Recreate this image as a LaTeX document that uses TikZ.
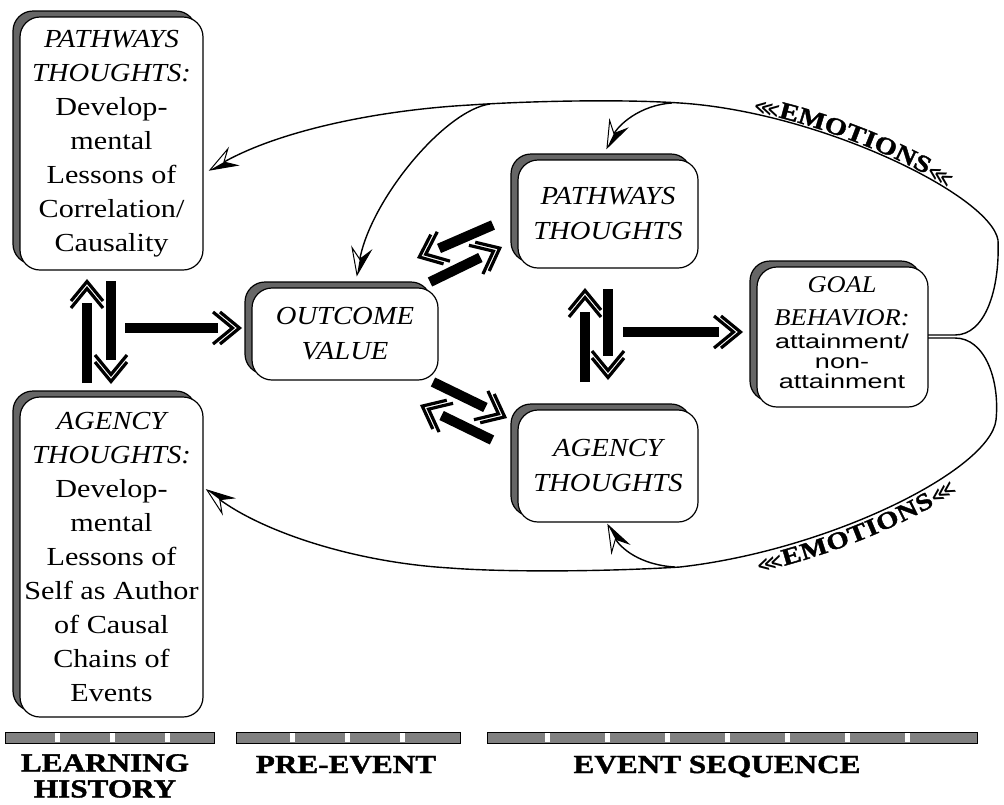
\documentclass[tikz,border=0pt]{standalone}
\usepackage{fontspec}
\setmainfont{Liberation Serif}
\newfontfamily\rmw[FakeStretch=1.16]{Liberation Serif}
\newfontfamily\itw[FakeStretch=1.1]{Liberation Serif}
\newfontfamily\sfw[FakeStretch=1.35]{Liberation Sans}
\newfontfamily\lbl[FakeStretch=1.2,BoldFeatures={FakeBold=1.5}]{Liberation Serif}
\newfontfamily\dvs{DejaVu Sans}
\usetikzlibrary{shadows,decorations.text,arrows.meta}
\newcommand\emof{\lbl\bfseries\fontsize{24}{24}\selectfont}
\newcommand\fletchf{\dvs\bfseries\fontsize{18}{18}\selectfont}

\pgfdeclarearrow{
  name=DChev,
  setup code={
    \pgfarrowssettipend{0pt}
    \pgfarrowssetlineend{-24pt}
    \pgfarrowssetvisualbackend{-31pt}
    \pgfarrowssetbackend{-31pt}
  },
  drawing code={
    \pgfsetlinewidth{3.2pt}
    \pgfsetmiterjoin
    \pgfsetbuttcap
    \pgfpathmoveto{\pgfpoint{-22pt}{16pt}}
    \pgfpathlineto{\pgfpoint{-2.5pt}{0pt}}
    \pgfpathlineto{\pgfpoint{-22pt}{-16pt}}
    \pgfpathmoveto{\pgfpoint{-29pt}{16pt}}
    \pgfpathlineto{\pgfpoint{-9.5pt}{0pt}}
    \pgfpathlineto{\pgfpoint{-29pt}{-16pt}}
    \pgfusepathqstroke
  }
}
\pgfdeclarearrow{
  name=HalfA,
  setup code={
    \pgfarrowssettipend{0pt}
    \pgfarrowssetlineend{-14pt}
    \pgfarrowssetvisualbackend{-16pt}
    \pgfarrowssetbackend{-25pt}
  },
  drawing code={
    \pgfsetlinewidth{1pt}
    \pgfsetmiterjoin
    \pgfpathmoveto{\pgfpoint{0pt}{0pt}}
    \pgfpathlineto{\pgfpoint{-26pt}{9.5pt}}
    \pgfpathlineto{\pgfpoint{-16pt}{0pt}}
    \pgfpathlineto{\pgfpoint{-26pt}{-9.5pt}}
    \pgfpathclose
    \pgfsetfillcolor{white}
    \pgfusepathqfillstroke
    \pgfpathmoveto{\pgfpoint{0pt}{0pt}}
    \pgfpathlineto{\pgfpoint{-16pt}{0pt}}
    \pgfpathlineto{\pgfpoint{-26pt}{9.5pt}}
    \pgfpathclose
    \pgfsetfillcolor{black}
    \pgfusepathqfill
  }
}
\pgfdeclarearrow{
  name=HalfB,
  setup code={
    \pgfarrowssettipend{0pt}
    \pgfarrowssetlineend{-14pt}
    \pgfarrowssetvisualbackend{-16pt}
    \pgfarrowssetbackend{-25pt}
  },
  drawing code={
    \pgfsetlinewidth{1pt}
    \pgfsetmiterjoin
    \pgfpathmoveto{\pgfpoint{0pt}{0pt}}
    \pgfpathlineto{\pgfpoint{-26pt}{9.5pt}}
    \pgfpathlineto{\pgfpoint{-16pt}{0pt}}
    \pgfpathlineto{\pgfpoint{-26pt}{-9.5pt}}
    \pgfpathclose
    \pgfsetfillcolor{white}
    \pgfusepathqfillstroke
    \pgfpathmoveto{\pgfpoint{0pt}{0pt}}
    \pgfpathlineto{\pgfpoint{-16pt}{0pt}}
    \pgfpathlineto{\pgfpoint{-26pt}{-9.5pt}}
    \pgfpathclose
    \pgfsetfillcolor{black}
    \pgfusepathqfill
  }
}

\tikzset{
  box/.style={draw=black, line width=1.2pt, fill=white, rounded corners=20pt,
    inner sep=0pt, align=center,
    general shadow={shadow xshift=-7pt, shadow yshift=6pt, fill=black!60,
      draw=black, line width=1.2pt}},
  bigarr/.style={line width=10pt, -DChev},
  curveA/.style={line width=1.4pt, -HalfA},
  curveB/.style={line width=1.4pt, -HalfB},
  boxtext/.style={font=\rmw\fontsize{26}{34}\selectfont},
  midtext/.style={font=\itw\itshape\fontsize{26}{35}\selectfont},
  label/.style={font=\lbl\bfseries\fontsize{26}{26}\selectfont, inner sep=0pt, align=center},
  barfill/.style={draw=black, line width=1pt, fill=black!50},
  bargap/.style={fill=white}
}

\begin{document}
\begin{tikzpicture}[x=1pt, y=-1pt]
\fill[white] (0,0) rectangle (1004,804);
\useasboundingbox (0,0) rectangle (1004,804);

% ---------- boxes ----------
\node[box, boxtext, minimum width=183pt, minimum height=253pt] (lp) at (111.5,143.5)
  {\itw\itshape PATHWAYS\\\itw\itshape THOUGHTS:\\\rmw\upshape Develop-\\\rmw mental\\\rmw Lessons of\\\rmw Correlation/\\\rmw Causality};
\node[box, boxtext, minimum width=183pt, minimum height=320pt] (la) at (111.5,557)
  {\itw\itshape AGENCY\\\itw\itshape THOUGHTS:\\\rmw\upshape Develop-\\\rmw mental\\\rmw Lessons of\\\rmw Self as Author\\\rmw of Causal\\\rmw Chains of\\\rmw Events};
\node[box, midtext, minimum width=186pt, minimum height=92pt] (ov) at (345,334) {OUTCOME\\VALUE};
\node[box, midtext, minimum width=180pt, minimum height=108pt] (pt) at (608,214) {PATHWAYS\\THOUGHTS};
\node[box, midtext, minimum width=180pt, minimum height=112pt] (at) at (608,466) {AGENCY\\THOUGHTS};
\node[box, minimum width=171pt, minimum height=140pt] (gb) at (842.5,337) {};
\node[font=\itw\itshape\fontsize{24}{33}\selectfont, align=center, inner sep=0pt] (gbt) at (842,301) {GOAL\\BEHAVIOR:};
\node[font=\sfw\fontsize{20}{20}\selectfont, align=center, inner sep=0pt] (gbs) at (842,361) {attainment/\\non-\\attainment};

% ---------- thick arrows ----------
\coordinate (v1a) at (87,383);  \coordinate (v1b) at (87,279);
\coordinate (v2a) at (111,281); \coordinate (v2b) at (111,384);
\coordinate (h1a) at (125,328); \coordinate (h1b) at (242,328);
\coordinate (v3a) at (585,382); \coordinate (v3b) at (585,288);
\coordinate (v4a) at (608,289); \coordinate (v4b) at (608,380);
\coordinate (h2a) at (623,332); \coordinate (h2b) at (743,332);
\coordinate (d1a) at (493,225); \coordinate (d1b) at (417,258);
\coordinate (d2a) at (430,282); \coordinate (d2b) at (502,247);
\coordinate (d3a) at (433,382); \coordinate (d3b) at (507,418);
\coordinate (d4a) at (492,440); \coordinate (d4b) at (420,405);
\foreach \s/\e in {v1a/v1b, v2a/v2b, h1a/h1b, v3a/v3b, v4a/v4b, h2a/h2b, d1a/d1b, d2a/d2b, d3a/d3b, d4a/d4b}
  \draw[bigarr] (\s) -- (\e);

% ---------- feedback curves ----------
\coordinate (g0) at (928,335);
\coordinate (g1) at (955,335);
\coordinate (ur) at (998,240);
\coordinate (ut) at (680,103);
\coordinate (uj) at (470,105);
\coordinate (lr) at (996,420);
\coordinate (lt) at (680,567);
\coordinate (lj) at (450,568);
\coordinate (tipLP) at (210,170);
\coordinate (tipOV) at (357,275);
\coordinate (tipPT) at (607,148);
\coordinate (tipAT) at (608,525);
\coordinate (tipLA) at (207,490);

\draw[curveA] (g0) -- (g1) .. controls (985,335) and (1000,290) .. (ur)
   .. controls (990,195) and (820,112) .. (ut)
   .. controls (620,99) and (530,101) .. (uj)
   .. controls (380,110) and (280,130) .. (tipLP);
\draw[curveA] (490,104) .. controls (445,110) and (370,200) .. (tipOV);
\draw[curveA] (672,103) .. controls (640,105) and (618,125) .. (tipPT);

\draw[curveB] (928,338) -- (955,338) .. controls (985,338) and (1000,380) .. (lr)
   .. controls (990,470) and (830,550) .. (lt)
   .. controls (600,572) and (500,572) .. (lj)
   .. controls (350,562) and (260,530) .. (tipLA);
\draw[curveB] (675,567) .. controls (640,565) and (620,548) .. (tipAT);

% ---------- EMOTIONS labels ----------
\path[decorate, decoration={text along path, text align=center, raise=2pt,
   text={|\fletchf|⋘|\emof|EMOTIONS|\fletchf|⋘}}]
   (ut) .. controls (820,112) and (990,195) .. (ur);
\path[decorate, decoration={text along path, text align=center, raise=-19pt,
   text={|\fletchf|⋘|\emof|EMOTIONS|\fletchf|⋘}}]
   (lt) .. controls (830,550) and (990,470) .. (lr);

% ---------- bars ----------
\draw[barfill] (5,732) rectangle (214,743);
\foreach \g in {55,110,165} \fill[bargap] (\g,733) rectangle ++(5,9);
\draw[barfill] (236,732) rectangle (460,743);
\foreach \g in {290,345,400} \fill[bargap] (\g,733) rectangle ++(5,9);
\draw[barfill] (487,732) rectangle (977,743);
\foreach \g in {545,605,665,725,785,845,905} \fill[bargap] (\g,733) rectangle ++(5,9);

% ---------- bottom labels ----------
\node[label, anchor=north] (lh) at (105,754) {LEARNING\\HISTORY};
\node[label, anchor=base] (pe) at (346,773) {PRE-EVENT};
\node[label, anchor=base] (es) at (717,773) {EVENT SEQUENCE};
\end{tikzpicture}
\end{document}
